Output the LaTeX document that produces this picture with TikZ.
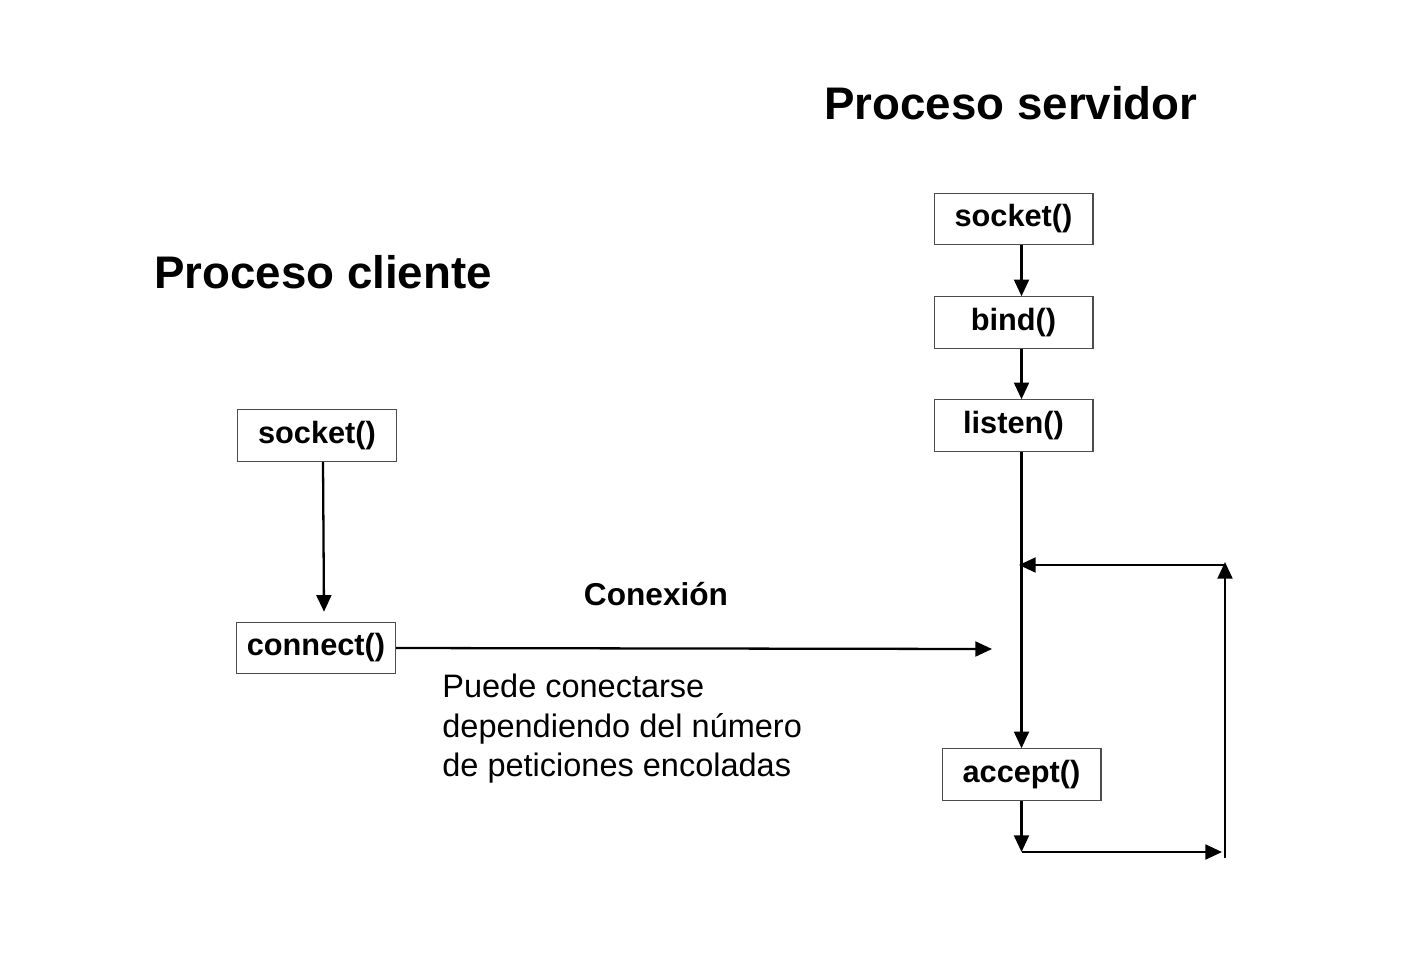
\documentclass[tikz,border=0pt]{standalone}
\usepackage{fontspec}
\setmainfont{Liberation Sans}
\usetikzlibrary{arrows.meta}

\tikzset{
    fn/.style={draw=black!70, line width=0.6pt, minimum width=3.18cm,
        minimum height=1.03cm, inner sep=0pt,
        font=\fontsize{17.5}{20}\selectfont\bfseries},
    titulo/.style={font=\fontsize{26}{30}\selectfont\bfseries},
    flujo/.style={line width=1.3pt, -{Triangle[length=9.5pt,width=8.5pt]}},
}

\begin{document}
\begin{tikzpicture}[x=0.02cm, y=-0.02cm]
    \useasboundingbox (0,0) rectangle (1406,968);

    % titulos
    \node[titulo] (tserv) at (1011,103) {Proceso servidor};
    \node[titulo] (tcli) at (323,272) {Proceso cliente};

    % servidor
    \node[fn] (ssock) at (1013.5,219) {socket()};
    \node[fn] (sbind) at (1013.5,322.5) {bind()};
    \node[fn] (slisten) at (1013.5,425.5) {listen()};
    \node[fn] (saccept) at (1021.5,774.5) {accept()};

    % cliente
    \node[fn] (csock) at (317,435.5) {socket()};
    \node[fn] (cconn) at (316,648) {connect()};

    \node[font=\fontsize{18}{21}\selectfont\bfseries] (conex) at (656,594) {Conexión};
    \node[align=left, anchor=north west, inner sep=0pt,
        font=\fontsize{18.5}{22.5}\selectfont] (nota) at (442,674)
        {Puede conectarse\\dependiendo del número\\de peticiones encoladas};

    \coordinate (cin) at (992,649);
    \coordinate (qdown) at (1021.5,852);
    \coordinate (qright) at (1222,852);
    \coordinate (qfoot) at (1225,858);
    \coordinate (qup) at (1225,562);
    \coordinate (qleft) at (1019,565);

    \draw[flujo] (ssock.south -| saccept) -- (sbind.north -| saccept);
    \draw[flujo] (sbind.south -| saccept) -- (slisten.north -| saccept);
    \draw[flujo] (slisten.south -| saccept) -- (saccept.north);

    \draw[flujo] ([xshift=0.12cm]csock.south) -- ([xshift=0.16cm, yshift=0.2cm]cconn.north);
    \draw[flujo] (cconn.east) -- (cin);

    % bucle de accept
    \draw[flujo] (saccept.south) -- (qdown);
    \draw[flujo] (qdown) -- (qright);
    \draw[flujo] (qfoot) -- (qup);
    \draw[flujo] (qup |- qleft) -- (qleft);
\end{tikzpicture}
\end{document}
